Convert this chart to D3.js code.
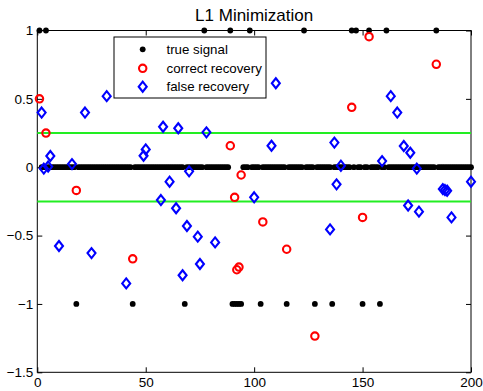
<!DOCTYPE html>
<html>
<head>
<meta charset="utf-8">
<script src="https://cdn.jsdelivr.net/npm/d3@7/dist/d3.min.js"></script>
<style>
  html, body { margin: 0; padding: 0; background: #fff; }
  svg { display: block; font-family: "Liberation Sans", Arial, Helvetica, sans-serif; }
</style>
</head>
<body>
<svg id="chart" width="483" height="391"></svg>
<script>
// Signal length and the support of the true sparse signal
const signalLength = 200;
const truePositive = [1, 4, 77, 89, 98, 123, 145, 147, 153, 161, 184];
const trueNegative = [18, 44, 68, 90, 91, 92, 93, 94, 103, 115, 128, 136, 150, 158];

// Recovered values on the true support: [index, value]
const correctRecovery = [
  [1, 0.50], [4, 0.25], [18, -0.17], [44, -0.67], [89, 0.157], [91, -0.22],
  [92, -0.75], [93, -0.73], [94, -0.057], [104, -0.40], [115, -0.60],
  [128, -1.235], [145, 0.438], [150, -0.367], [153, 0.955], [184, 0.753]
];

// Recovered values off the true support: [index, value]
const falseRecovery = [
  [2, 0.40], [3, -0.01], [5, 0.005], [6, 0.082], [10, -0.576], [16, 0.023],
  [22, 0.40], [25, -0.628], [32, 0.52], [41, -0.85], [49, 0.084], [50, 0.13],
  [57, -0.24], [58, 0.296], [61, -0.106], [64, -0.30], [65, 0.285], [67, -0.79],
  [69, -0.43], [70, -0.03], [74, -0.508], [75, -0.708], [78, 0.255], [82, -0.55],
  [100, -0.22], [108, 0.157], [110, 0.614], [135, -0.455], [137, 0.18],
  [138, -0.125], [140, 0.011], [159, 0.045], [163, 0.52], [166, 0.40],
  [169, 0.155], [171, -0.28], [172, 0.106], [175, -0.01], [176, -0.325],
  [187, -0.16], [188, -0.167], [189, -0.172], [191, -0.367], [200, -0.106]
];

// Threshold lines
const thresholds = [0.25, -0.25];

const xTicks = [0, 50, 100, 150, 200];
const yTicks = [-1.5, -1, -0.5, 0, 0.5, 1];
const legendLabels = ["true signal", "correct recovery", "false recovery"];
const titleText = "L1 Minimization";

// Build the full true signal from its support
const trueSignal = d3.range(1, signalLength + 1).map(i => [
  i,
  truePositive.includes(i) ? 1 : (trueNegative.includes(i) ? -1 : 0)
]);

const svg = d3.select("#chart");
const margin = { left: 37.3, right: 12, top: 30.5, bottom: 18.7 };
const W = 483, H = 391;

const x = d3.scaleLinear().domain([0, 200]).range([margin.left, W - margin.right]);
const y = d3.scaleLinear().domain([-1.5, 1]).range([H - margin.bottom, margin.top]);

const fmt = v => (v < 0 ? "\u2212" : "") + String(Math.abs(v));
const tickFont = "13.5px";

// Plot box
svg.append("rect")
  .attr("x", x(0)).attr("y", y(1))
  .attr("width", x(200) - x(0)).attr("height", y(-1.5) - y(1))
  .attr("fill", "#fff").attr("stroke", "#000").attr("stroke-width", 1);

// Axes with inward ticks on all four sides
const tickLen = 5;
svg.append("g").attr("transform", `translate(0,${y(-1.5)})`)
  .call(d3.axisBottom(x).tickValues(xTicks).tickSize(-tickLen).tickPadding(5).tickFormat(fmt))
  .call(g => g.select(".domain").remove())
  .call(g => g.selectAll("text").attr("font-size", tickFont).attr("fill", "#000").attr("font-family", "Liberation Sans, Arial, sans-serif"));
svg.append("g").attr("transform", `translate(0,${y(1)})`)
  .call(d3.axisTop(x).tickValues(xTicks).tickSize(-tickLen).tickFormat(""))
  .call(g => g.select(".domain").remove());
svg.append("g").attr("transform", `translate(${x(0)},0)`)
  .call(d3.axisLeft(y).tickValues(yTicks).tickSize(-tickLen).tickPadding(4).tickFormat(fmt))
  .call(g => g.select(".domain").remove())
  .call(g => g.selectAll("text").attr("font-size", tickFont).attr("fill", "#000").attr("font-family", "Liberation Sans, Arial, sans-serif"));
svg.append("g").attr("transform", `translate(${x(200)},0)`)
  .call(d3.axisRight(y).tickValues(yTicks).tickSize(-tickLen).tickFormat(""))
  .call(g => g.select(".domain").remove());

// Threshold lines
svg.append("g").selectAll("line").data(thresholds).join("line")
  .attr("x1", x(0)).attr("x2", x(200))
  .attr("y1", d => y(d)).attr("y2", d => y(d))
  .attr("stroke", "#22ee22").attr("stroke-width", 2);

// Diamond path generator
const diamond = (cx, cy, hw, hh) =>
  `M${cx},${cy - hh}L${cx + hw},${cy}L${cx},${cy + hh}L${cx - hw},${cy}Z`;

const dotR = 2.9;

// True signal
svg.append("g").selectAll("circle").data(trueSignal).join("circle")
  .attr("cx", d => x(d[0])).attr("cy", d => y(d[1])).attr("r", dotR)
  .attr("fill", "#000");

// Correct recovery
svg.append("g").selectAll("circle").data(correctRecovery).join("circle")
  .attr("cx", d => x(d[0])).attr("cy", d => y(d[1])).attr("r", 3.7)
  .attr("fill", "none").attr("stroke", "#ff0000").attr("stroke-width", 2.1);

// False recovery
svg.append("g").selectAll("path").data(falseRecovery).join("path")
  .attr("d", d => diamond(x(d[0]), y(d[1]), 4, 5))
  .attr("fill", "none").attr("stroke", "#0000ff").attr("stroke-width", 2.1)
  .attr("stroke-linejoin", "miter");

// Legend
const lg = svg.append("g");
lg.append("rect").attr("x", 114).attr("y", 37).attr("width", 152).attr("height", 61)
  .attr("fill", "#fff").attr("stroke", "#000").attr("stroke-width", 1);
const rowY = [49.3, 68.3, 86.7];
lg.append("circle").attr("cx", 142.7).attr("cy", rowY[0]).attr("r", dotR).attr("fill", "#000");
lg.append("circle").attr("cx", 142.7).attr("cy", rowY[1]).attr("r", 3.7)
  .attr("fill", "none").attr("stroke", "#ff0000").attr("stroke-width", 2.1);
lg.append("path").attr("d", diamond(142.7, rowY[2], 4, 5))
  .attr("fill", "none").attr("stroke", "#0000ff").attr("stroke-width", 2.1);
lg.selectAll("text").data(legendLabels).join("text")
  .attr("x", 166.5).attr("y", (d, i) => rowY[i]).attr("dy", "0.35em")
  .attr("font-size", "13.3px").attr("fill", "#000").text(d => d);

// Title
svg.append("text").attr("x", (x(0) + x(200)) / 2).attr("y", 21)
  .attr("text-anchor", "middle").attr("font-size", "17px").attr("fill", "#000")
  .text(titleText);
</script>
</body>
</html>
